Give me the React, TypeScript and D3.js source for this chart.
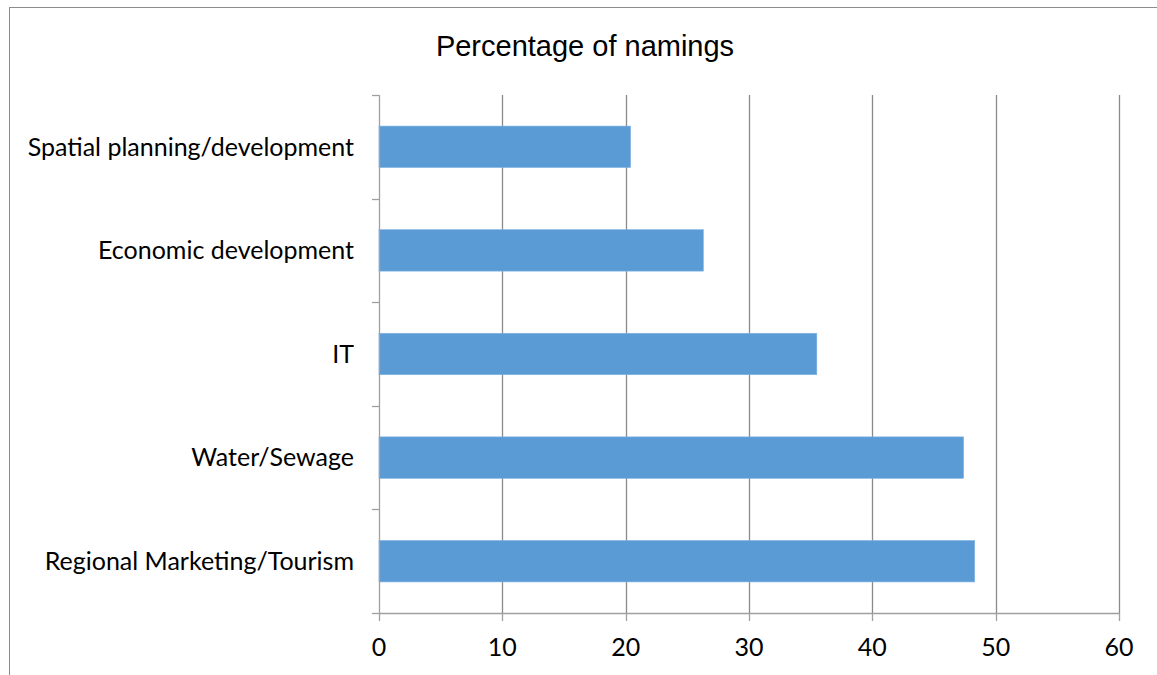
import { useEffect, useRef } from 'react'
import * as d3 from 'd3'

const categories = [
  'Spatial planning/development',
  'Economic development',
  'IT',
  'Water/Sewage',
  'Regional Marketing/Tourism'
]
const values = [20.4, 26.3, 35.5, 47.4, 48.3]
const xTicks = [0, 10, 20, 30, 40, 50, 60]
const title = 'Percentage of namings'

const W = 1157
const H = 675

const App = () => {
  const svgRef = useRef<SVGSVGElement>(null)

  useEffect(() => {
    const svg = d3.select(svgRef.current)
    svg.selectAll('*').remove()

    const left = 379
    const right = 1119
    const top = 95
    const bottom = 613
    const grey = '#a0a0a0'
    const labelFont = 'Lato, "Open Sans", sans-serif'

    // chart frame, cut off at right and bottom like the original
    svg.append('rect')
      .attr('x', 9.5)
      .attr('y', 7.5)
      .attr('width', W + 20)
      .attr('height', H + 20)
      .attr('fill', '#fff')
      .attr('stroke', '#8c8c8c')

    const x = d3.scaleLinear().domain([0, 60]).range([left, right])
    const y = d3.scaleBand<string>()
      .domain(categories)
      .range([top, bottom])
      .paddingInner(0.6)
      .paddingOuter(0.3)

    // vertical gridlines
    svg.append('g')
      .selectAll('line')
      .data(xTicks.slice(1))
      .join('line')
      .attr('x1', d => Math.round(x(d)) + 0.5)
      .attr('x2', d => Math.round(x(d)) + 0.5)
      .attr('y1', top)
      .attr('y2', bottom)
      .attr('stroke', '#8a8a8a')
      .attr('stroke-width', 1.3)

    // bars
    svg.append('g')
      .selectAll('rect')
      .data(categories)
      .join('rect')
      .attr('x', x(0))
      .attr('y', d => y(d)!)
      .attr('width', (d, i) => x(values[i]) - x(0))
      .attr('height', y.bandwidth())
      .attr('fill', '#5b9bd5')
      .attr('stroke', '#7fb2e2')
      .attr('stroke-width', 0.6)

    // y axis with ticks at band boundaries
    const step = y.step()
    const yBounds = d3.range(categories.length + 1).map(i => top + i * step)
    const ya = svg.append('g')
    ya.append('line')
      .attr('x1', left + 0.5).attr('x2', left + 0.5)
      .attr('y1', top).attr('y2', bottom)
      .attr('stroke', grey).attr('stroke-width', 1.3)
    ya.selectAll('line.tick')
      .data(yBounds)
      .join('line')
      .attr('class', 'tick')
      .attr('x1', left - 7).attr('x2', left)
      .attr('y1', d => Math.round(d) + 0.5)
      .attr('y2', d => Math.round(d) + 0.5)
      .attr('stroke', grey).attr('stroke-width', 1.3)

    ya.selectAll('text')
      .data(categories)
      .join('text')
      .attr('x', 354)
      .attr('y', d => y(d)! + y.bandwidth() / 2)
      .attr('dy', '0.35em')
      .attr('text-anchor', 'end')
      .attr('font-family', labelFont)
      .attr('font-size', 25)
      .attr('fill', '#000')
      .text(d => d)

    // x axis
    const xa = svg.append('g')
    xa.append('line')
      .attr('x1', left).attr('x2', right + 1)
      .attr('y1', bottom + 0.5).attr('y2', bottom + 0.5)
      .attr('stroke', grey).attr('stroke-width', 1.3)
    xa.selectAll('line.tick')
      .data(xTicks)
      .join('line')
      .attr('class', 'tick')
      .attr('x1', d => Math.round(x(d)) + 0.5)
      .attr('x2', d => Math.round(x(d)) + 0.5)
      .attr('y1', bottom)
      .attr('y2', bottom + 8)
      .attr('stroke', grey).attr('stroke-width', 1.3)
    xa.selectAll('text')
      .data(xTicks)
      .join('text')
      .attr('x', d => x(d))
      .attr('y', 647)
      .attr('dy', '0.35em')
      .attr('text-anchor', 'middle')
      .attr('font-family', labelFont)
      .attr('font-size', 25)
      .attr('fill', '#000')
      .text(d => d)

    svg.append('text')
      .attr('x', 585)
      .attr('y', 56)
      .attr('text-anchor', 'middle')
      .attr('font-family', '"Liberation Sans", Arial, sans-serif')
      .attr('font-size', 29)
      .attr('fill', '#000')
      .text(title)
  }, [])

  return (
    <svg
      ref={svgRef}
      width={W}
      height={H}
      style={{ position: 'absolute', left: 0, top: 0, display: 'block' }}
    />
  )
}

export default App
